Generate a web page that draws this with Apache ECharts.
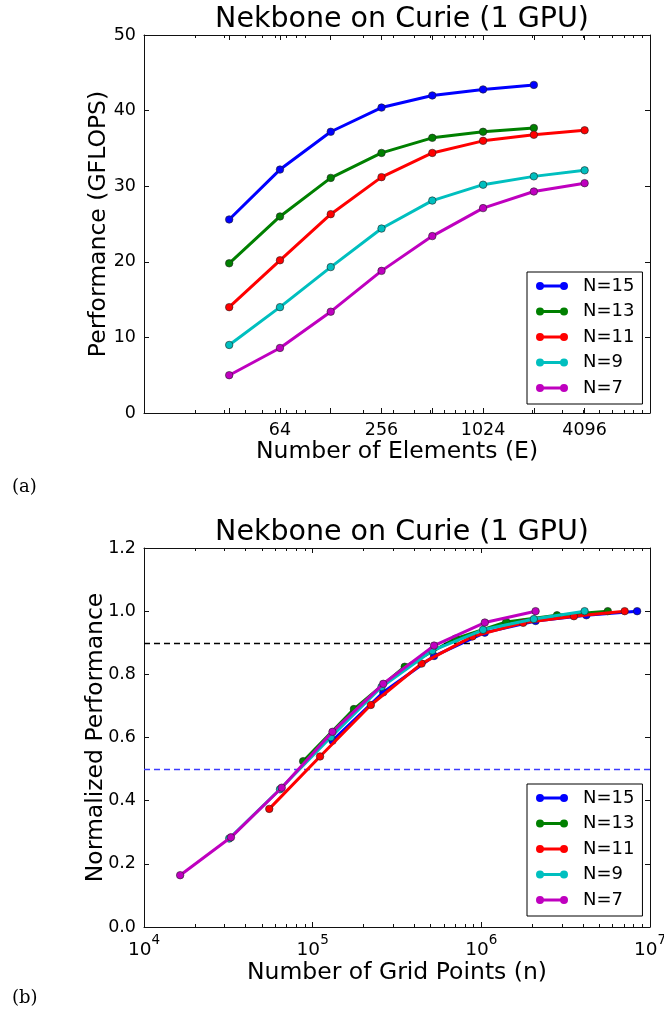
<!DOCTYPE html>
<html>
<head>
<meta charset="utf-8">
<script src="https://cdn.jsdelivr.net/npm/echarts@6/dist/echarts.min.js"></script>
<style>
html,body{margin:0;padding:0;background:#fff;}
#c{width:664px;height:1012px;}
</style>
</head>
<body>
<div id="c"></div>
<script>
// ---- data (a): performance vs number of elements ----
const seriesNames = ['N=15', 'N=13', 'N=11', 'N=9', 'N=7'];
const elemsN15 = [32, 64, 128, 256, 512, 1024, 2048];
const elemsN13 = [32, 64, 128, 256, 512, 1024, 2048];
const elemsN11 = [32, 64, 128, 256, 512, 1024, 2048, 4096];
const elemsN9  = [32, 64, 128, 256, 512, 1024, 2048, 4096];
const elemsN7  = [32, 64, 128, 256, 512, 1024, 2048, 4096];
const perfN15 = [25.6, 32.2, 37.2, 40.4, 42.0, 42.8, 43.4];
const perfN13 = [19.8, 26.0, 31.1, 34.4, 36.4, 37.2, 37.7];
const perfN11 = [14.0, 20.2, 26.3, 31.2, 34.4, 36.0, 36.8, 37.4];
const perfN9  = [9.0, 14.0, 19.3, 24.4, 28.1, 30.2, 31.3, 32.1];
const perfN7  = [5.0, 8.6, 13.4, 18.8, 23.4, 27.1, 29.3, 30.4];

// ---- data (b): normalized performance vs number of grid points ----
const gridN15 = [131072, 262144, 524288, 1048576, 2097152, 4194304, 8388608];
const gridN13 = [87808, 175616, 351232, 702464, 1404928, 2809856, 5619712];
const gridN11 = [55296, 110592, 221184, 442368, 884736, 1769472, 3538944, 7077888];
const gridN9  = [32000, 64000, 128000, 256000, 512000, 1024000, 2048000, 4096000];
const gridN7  = [16384, 32768, 65536, 131072, 262144, 524288, 1048576, 2097152];
const normN15 = [0.590, 0.743, 0.858, 0.932, 0.969, 0.987, 1.0];
const normN13 = [0.525, 0.690, 0.824, 0.913, 0.966, 0.987, 1.0];
const normN11 = [0.374, 0.540, 0.703, 0.834, 0.920, 0.963, 0.984, 1.0];
const normN9  = [0.280, 0.436, 0.601, 0.760, 0.875, 0.941, 0.975, 1.0];
const normN7  = [0.164, 0.284, 0.441, 0.618, 0.770, 0.891, 0.964, 1.0];

// reference lines in (b)
const refLines = [0.9, 0.5];
const refColors = ['#000000', '#3c3cff'];

// ---- tick labels ----
const topMajorTicks = [32, 64, 128, 256, 512, 1024, 2048, 4096];
const topTickLabels = [64, 256, 1024, 4096];
const topMinorTicks = [20,30,40,50,60,70,80,90,200,300,400,500,600,700,800,900,2000,3000,4000,5000,6000,7000,8000,9000];
const botMajorTicks = [1e4, 1e5, 1e6, 1e7];
const botMinorTicks = [2e4,3e4,4e4,5e4,6e4,7e4,8e4,9e4,2e5,3e5,4e5,5e5,6e5,7e5,8e5,9e5,2e6,3e6,4e6,5e6,6e6,7e6,8e6,9e6];
const perfTicks = [0, 10, 20, 30, 40, 50];
const normTicks = [0, 0.2, 0.4, 0.6, 0.8, 1.0, 1.2];

const colors = ['#0000ff', '#008000', '#ff0000', '#00bfbf', '#bf00bf'];
const FONT = 'DejaVu Sans';
const legendIcon = 'path://M4,0 A4,4 0 1,1 4,8 A4,4 0 1,1 4,0 Z M28,0 A4,4 0 1,1 28,8 A4,4 0 1,1 28,0 Z M4,2.5 L28,2.5 L28,5.5 L4,5.5 Z';

const topX = [elemsN15, elemsN13, elemsN11, elemsN9, elemsN7];
const topY = [perfN15, perfN13, perfN11, perfN9, perfN7];
const botX = [gridN15, gridN13, gridN11, gridN9, gridN7];
const botY = [normN15, normN13, normN11, normN9, normN7];

const chart = echarts.init(document.getElementById('c'), null, {renderer: 'canvas'});

const spine = {show: true, lineStyle: {color: '#111', width: 1}};
function xAx(grid, pos, min, max, ticks, len, labels, extra) {
  return Object.assign({
    type: 'log', logBase: 10, gridIndex: grid, position: pos, min: min, max: max,
    axisLine: spine,
    axisTick: {show: true, inside: true, length: len, customValues: ticks, lineStyle: {color: '#111', width: 1}},
    axisLabel: labels ? labels : {show: false},
    splitLine: {show: false}, minorTick: {show: false}
  }, extra || {});
}

const topLabel = {
  show: true, customValues: topTickLabels, fontFamily: FONT, fontSize: 17.5, color: '#000', margin: 8,
  formatter: v => String(Math.round(v))
};
const botLabel = {
  show: true, customValues: botMajorTicks, fontFamily: FONT, color: '#000', margin: 6,
  formatter: v => '{b|10}{s|' + Math.round(Math.log10(v)) + '}',
  rich: {b: {fontFamily: FONT, fontSize: 18.5, color: '#000', padding: [8, 0, 0, 0]},
         s: {fontFamily: FONT, fontSize: 13.5, color: '#000', verticalAlign: 'top', padding: [0, 0, 0, 0]}}
};

const nameStyle = {fontFamily: FONT, fontSize: 23.5, color: '#000'};

const xAxes = [
  xAx(0, 'bottom', 10, 10000, topMajorTicks, 5, topLabel, {
    name: 'Number of Elements (E)', nameLocation: 'middle', nameGap: 27, nameTextStyle: nameStyle}),
  xAx(0, 'bottom', 10, 10000, topMinorTicks, 3, null, {axisLine: {show: false}}),
  xAx(0, 'top', 10, 10000, topMajorTicks, 5, null),
  xAx(0, 'top', 10, 10000, topMinorTicks, 3, null, {axisLine: {show: false}}),
  xAx(1, 'bottom', 1e4, 1e7, botMajorTicks, 5, botLabel, {
    name: 'Number of Grid Points (n)', nameLocation: 'middle', nameGap: 31, nameTextStyle: nameStyle}),
  xAx(1, 'bottom', 1e4, 1e7, botMinorTicks, 3, null, {axisLine: {show: false}}),
  xAx(1, 'top', 1e4, 1e7, botMajorTicks, 5, null),
  xAx(1, 'top', 1e4, 1e7, botMinorTicks, 3, null, {axisLine: {show: false}})
];

function yAx(grid, pos, min, max, interval, showLabel, fmt, name, gap) {
  return {
    type: 'value', gridIndex: grid, position: pos, min: min, max: max, interval: interval,
    axisLine: spine,
    axisTick: {show: true, inside: true, length: 5, lineStyle: {color: '#111', width: 1}},
    axisLabel: showLabel ? {show: true, fontFamily: FONT, fontSize: 17.5, color: '#000', margin: 8, formatter: fmt} : {show: false},
    splitLine: {show: false},
    name: name || '', nameLocation: 'middle', nameGap: gap || 40, nameRotate: 90,
    nameMoveOverlap: false,
    nameTextStyle: nameStyle
  };
}

const yAxes = [
  yAx(0, 'left', perfTicks[0], perfTicks[perfTicks.length - 1], 10, true, v => String(v), 'Performance (GFLOPS)', 33),
  yAx(0, 'right', perfTicks[0], perfTicks[perfTicks.length - 1], 10, false),
  yAx(1, 'left', normTicks[0], normTicks[normTicks.length - 1], 0.2, true, v => v.toFixed(1), 'Normalized Performance', 36),
  yAx(1, 'right', normTicks[0], normTicks[normTicks.length - 1], 0.2, false)
];

const series = [];
seriesNames.forEach((nm, i) => {
  series.push({
    name: nm, type: 'line', xAxisIndex: 0, yAxisIndex: 0,
    data: topX[i].map((x, k) => [x, topY[i][k]]),
    symbol: 'circle', symbolSize: 7.5, showAllSymbol: true,
    lineStyle: {color: colors[i], width: 3},
    itemStyle: {color: colors[i], borderColor: '#222', borderWidth: 0.6},
    emphasis: {disabled: true}, animation: false, z: 3 + i
  });
});
seriesNames.forEach((nm, i) => {
  const s = {
    name: nm, type: 'line', xAxisIndex: 4, yAxisIndex: 2,
    data: botX[i].map((x, k) => [x, botY[i][k]]),
    symbol: 'circle', symbolSize: 7.5, showAllSymbol: true,
    lineStyle: {color: colors[i], width: 3},
    itemStyle: {color: colors[i], borderColor: '#222', borderWidth: 0.6},
    emphasis: {disabled: true}, animation: false, z: 3 + i
  };
  if (i < 2) {
    s.markLine = {
      silent: true, symbol: 'none', animation: false, label: {show: false},
      lineStyle: {color: refColors[i], type: [6, 4], width: 1.3, opacity: 1},
      emphasis: {disabled: true},
      data: [{yAxis: refLines[i], lineStyle: {color: refColors[i], type: [6, 4], width: 1.3, opacity: 1}}]
    };
  }
  series.push(s);
});

function legend(top) {
  return {
    left: 527, top: top, orient: 'vertical',
    data: seriesNames.map(n => ({name: n, icon: legendIcon})),
    itemWidth: 32, itemHeight: 8, itemGap: 7.5,
    itemStyle: {borderWidth: 0},
    lineStyle: {width: 0},
    borderColor: '#000', borderWidth: 1, padding: [5, 8, 7, 9],
    textStyle: {fontFamily: FONT, fontSize: 18, color: '#000', lineHeight: 18, padding: [0, 0, 0, 10]},
    selectedMode: false, backgroundColor: '#fff'
  };
}

chart.setOption({
  backgroundColor: '#fff',
  animation: false,
  title: [
    {text: 'Nekbone on Curie (1 GPU)', left: 397, top: 0, textAlign: 'center',
     textStyle: {fontFamily: FONT, fontSize: 28.5, fontWeight: 'normal', color: '#000'}},
    {text: 'Nekbone on Curie (1 GPU)', left: 397, top: 513, textAlign: 'center',
     textStyle: {fontFamily: FONT, fontSize: 28.5, fontWeight: 'normal', color: '#000'}},
    {text: '(a)', left: 7, top: 473,
     textStyle: {fontFamily: 'DejaVu Serif', fontSize: 18, fontWeight: 'normal', color: '#000'}},
    {text: '(b)', left: 7, top: 984,
     textStyle: {fontFamily: 'DejaVu Serif', fontSize: 18, fontWeight: 'normal', color: '#000'}}
  ],
  grid: [
    {left: 144, top: 35, width: 506, height: 378, outerBoundsMode: 'none', containLabel: false},
    {left: 144, top: 548, width: 506, height: 379, outerBoundsMode: 'none', containLabel: false}
  ],
  legend: [legend(272), legend(784)],
  xAxis: xAxes,
  yAxis: yAxes,
  series: series
});
</script>
</body>
</html>
